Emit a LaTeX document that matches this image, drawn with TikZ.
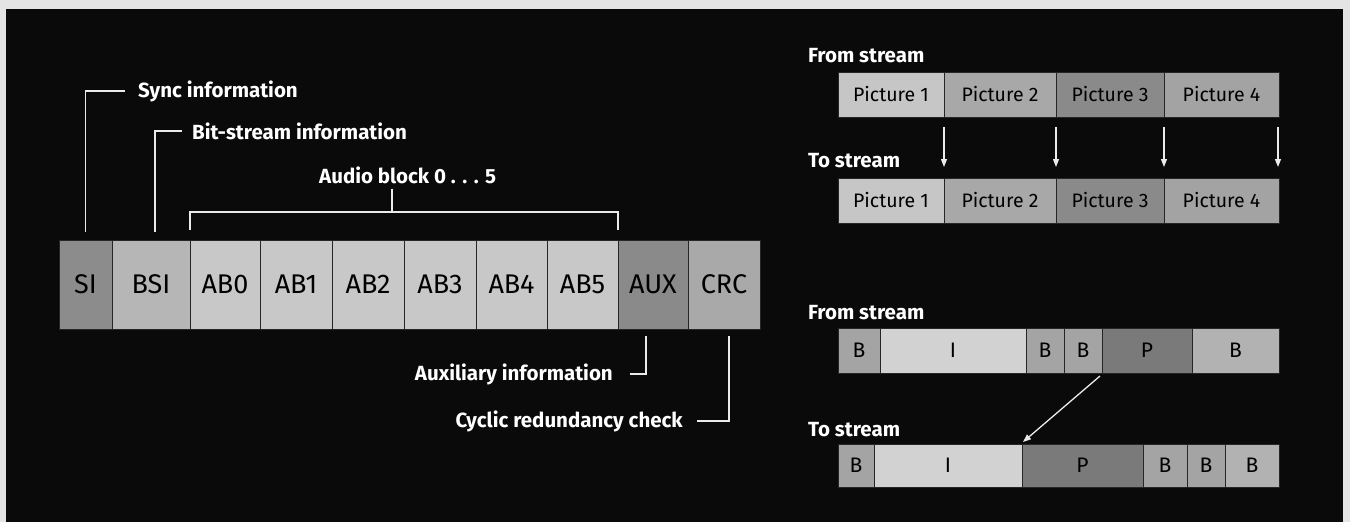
\documentclass[tikz,border=0pt]{standalone}
\usepackage{fontspec}
\setmainfont{Fira Sans}
\usetikzlibrary{positioning,arrows.meta}

% fill colours of the fields
\definecolor{bgdark}{HTML}{0A0A0A}
\definecolor{frame}{HTML}{E4E4E4}
\definecolor{fsi}{HTML}{8C8C8C}
\definecolor{fbsi}{HTML}{B6B6B6}
\definecolor{fab}{HTML}{C8C8C8}
\definecolor{faux}{HTML}{8A8A8A}
\definecolor{fcrc}{HTML}{A9A9A9}
\definecolor{fpa}{HTML}{C6C6C6}
\definecolor{fpb}{HTML}{A8A8A8}
\definecolor{fpc}{HTML}{8A8A8A}
\definecolor{fpd}{HTML}{A3A3A3}
\definecolor{fbb}{HTML}{A4A4A4}
\definecolor{fii}{HTML}{D2D2D2}
\definecolor{fpp}{HTML}{7A7A7A}
\definecolor{fbl}{HTML}{B2B2B2}

\tikzset{
 field/.style={draw=black!85, line width=0.7pt, inner sep=0pt, outer sep=0pt,
  minimum height=89pt, text=black, font=\fontsize{27}{27}\selectfont},
 picbox/.style={field, minimum height=45pt, font=\fontsize{19.5}{19.5}\selectfont},
 framebox/.style={field, minimum height=45pt, font=\fontsize{21}{21}\selectfont},
 lbl/.style={text=white, inner sep=0pt, font=\bfseries\fontsize{20.5}{20.5}\selectfont},
 leader/.style={draw=white!92!black, line width=1.6pt},
 mover/.style={leader, line width=1.3pt, -{Triangle[width=6pt,length=8pt]}}
}

\begin{document}
\begin{tikzpicture}[x=1pt,y=-1pt]
 %background and frame
 \fill[frame] (0,0) rectangle (1350,522);
 \fill[bgdark] (6,9) rectangle (1343,522);
 \useasboundingbox (0,0) rectangle (1350,522);

 %fields of the frame
 \node[field, fill=fsi, minimum width=53pt, anchor=north west] (si) at (59,240) {SI};
 \node[field, fill=fbsi, minimum width=78pt, right=0pt of si] (bsi) {BSI};
 \node[field, fill=fab, minimum width=70pt, right=0pt of bsi] (ab0) {AB0};
 \node[field, fill=fab, minimum width=72pt, right=0pt of ab0] (ab1) {AB1};
 \node[field, fill=fab, minimum width=72pt, right=0pt of ab1] (ab2) {AB2};
 \node[field, fill=fab, minimum width=72pt, right=0pt of ab2] (ab3) {AB3};
 \node[field, fill=fab, minimum width=71pt, right=0pt of ab3] (ab4) {AB4};
 \node[field, fill=fab, minimum width=71pt, right=0pt of ab4] (ab5) {AB5};
 \node[field, fill=faux, minimum width=70pt, right=0pt of ab5] (aux) {AUX};
 \node[field, fill=fcrc, minimum width=72pt, right=0pt of aux] (crc) {CRC};

 %labels of the fields
 \node[lbl, anchor=base west] (sync) at (138,97) {Sync information};
 \node[lbl, anchor=base west] (bsinfo) at (192,139) {Bit-stream information};
 \node[lbl, anchor=base west] (audio) at (319,183) {Audio block 0 . . . 5};
 \node[lbl, anchor=base east] (auxinfo) at (613,380) {Auxiliary information};
 \node[lbl, anchor=base east] (crcinfo) at (683,427) {Cyclic redundancy check};

 %leader lines
 \draw[leader] ([yshift=8pt]si.north) |- ([xshift=-13pt]sync.west);
 \draw[leader] ([xshift=4pt,yshift=8pt]bsi.north) |- ([xshift=-10pt]bsinfo.west);
 \coordinate (brk) at ([yshift=28pt]ab0.north west);
 \draw[leader] ([yshift=10pt]ab0.north west) -- (brk) -| ([yshift=10pt]ab5.north east);
 \draw[leader] ([yshift=-5pt]audio.south -| 392,0) -- (392,0 |- brk);
 \draw[leader] ([xshift=-7pt,yshift=-7pt]aux.south) |- ([xshift=17pt]auxinfo.east);
 \draw[leader] ([xshift=5pt,yshift=-7pt]crc.south) |- ([xshift=14pt]crcinfo.east);

 %pictures in display order
 \node[lbl, anchor=base west] (froma) at (808,62) {From stream};
 \node[picbox, fill=fpa, minimum width=106pt, anchor=north west] (pa1) at (838,72) {Picture 1};
 \node[picbox, fill=fpb, minimum width=112pt, right=0pt of pa1] (pa2) {Picture 2};
 \node[picbox, fill=fpc, minimum width=108pt, right=0pt of pa2] (pa3) {Picture 3};
 \node[picbox, fill=fpd, minimum width=115pt, right=0pt of pa3] (pa4) {Picture 4};

 \node[lbl, anchor=base west] (toa) at (808,167) {To stream};
 \node[picbox, fill=fpa, minimum width=106pt, anchor=north west] (pb1) at (838,178) {Picture 1};
 \node[picbox, fill=fpb, minimum width=112pt, right=0pt of pb1] (pb2) {Picture 2};
 \node[picbox, fill=fpc, minimum width=108pt, right=0pt of pb2] (pb3) {Picture 3};
 \node[picbox, fill=fpd, minimum width=115pt, right=0pt of pb3] (pb4) {Picture 4};

 \draw[mover] ([yshift=-10pt]pa1.south east) -- ([yshift=11pt]pb1.north east);
 \draw[mover] ([yshift=-10pt]pa2.south east) -- ([yshift=11pt]pb2.north east);
 \draw[mover] ([yshift=-10pt]pa3.south east) -- ([yshift=11pt]pb3.north east);
 \draw[mover] ([xshift=-1pt,yshift=-10pt]pa4.south east) -- ([xshift=-1pt,yshift=11pt]pb4.north east);

 %frames reordered
 \node[lbl, anchor=base west] (fromb) at (808,319) {From stream};
 \node[framebox, fill=fbb, minimum width=42pt, anchor=north west] (fb1) at (838,328) {B};
 \node[framebox, fill=fii, minimum width=146pt, right=0pt of fb1] (fi) {I};
 \node[framebox, fill=fbb, minimum width=38pt, right=0pt of fi] (fb2) {B};
 \node[framebox, fill=fbb, minimum width=38pt, right=0pt of fb2] (fb3) {B};
 \node[framebox, fill=fpp, minimum width=90pt, right=0pt of fb3] (fp) {P};
 \node[framebox, fill=fbl, minimum width=87pt, right=0pt of fp] (fb4) {B};

 \node[lbl, anchor=base west] (tob) at (808,436) {To stream};
 \node[framebox, fill=fbb, minimum width=36pt, minimum height=43pt, anchor=north west] (tb1) at (838,444) {B};
 \node[framebox, fill=fii, minimum width=148pt, minimum height=43pt, right=0pt of tb1] (ti) {I};
 \node[framebox, fill=fpp, minimum width=121pt, minimum height=43pt, right=0pt of ti] (tp) {P};
 \node[framebox, fill=fbb, minimum width=44pt, minimum height=43pt, right=0pt of tp] (tb2) {B};
 \node[framebox, fill=fbb, minimum width=38pt, minimum height=43pt, right=0pt of tb2] (tb3) {B};
 \node[framebox, fill=fbl, minimum width=54pt, minimum height=43pt, right=0pt of tb3] (tb4) {B};

 \draw[mover] ([xshift=-2pt,yshift=-3pt]fp.south west) -- ([xshift=1pt,yshift=2pt]tp.north west);
\end{tikzpicture}
\end{document}
